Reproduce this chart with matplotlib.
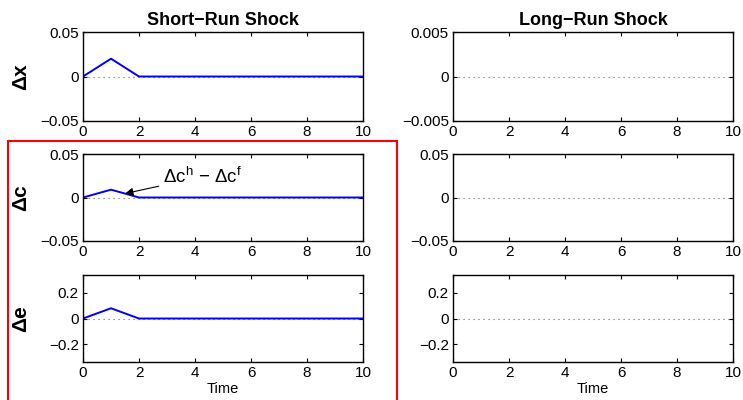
import numpy as np
import matplotlib
matplotlib.use('Agg')
import matplotlib.pyplot as plt
from matplotlib.patches import Rectangle

plt.rcParams['font.family'] = ['Liberation Sans', 'DejaVu Sans']
plt.rcParams['mathtext.fontset'] = 'custom'
plt.rcParams['mathtext.rm'] = 'Liberation Sans'

# impulse responses (periods 0..10)
time = [0, 1, 2, 3, 4, 5, 6, 7, 8, 9, 10]
short_dx = [0, 0.02, 0, 0, 0, 0, 0, 0, 0, 0, 0]
short_dc = [0, 0.009, 0, 0, 0, 0, 0, 0, 0, 0, 0]
short_de = [0, 0.08, 0, 0, 0, 0, 0, 0, 0, 0, 0]

col_titles = ['Short\u2212Run Shock', 'Long\u2212Run Shock']
row_labels = ['\u0394x', '\u0394c', '\u0394e']

# y-axis limits and ticks per row, per column
ylims = [[0.05, 0.005], [0.05, 0.05], [0.34, 0.34]]
yticks = [[[-0.05, 0, 0.05], [-0.005, 0, 0.005]],
          [[-0.05, 0, 0.05], [-0.05, 0, 0.05]],
          [[-0.2, 0, 0.2], [-0.2, 0, 0.2]]]
ytick_labels = [[['\u22120.05', '0', '0.05'], ['\u22120.005', '0', '0.005']],
                [['\u22120.05', '0', '0.05'], ['\u22120.05', '0', '0.05']],
                [['\u22120.2', '0', '0.2'], ['\u22120.2', '0', '0.2']]]
xticks = [0, 2, 4, 6, 8, 10]

W, H = 743, 400
fig = plt.figure(figsize=(W / 100, H / 100), dpi=100)

lefts = [83, 453]
rows = [(32, 121), (154, 241), (275, 362)]
series = [short_dx, short_dc, short_de]

axes = []
for r, (top, bot) in enumerate(rows):
    for c, lx in enumerate(lefts):
        ax = fig.add_axes([lx / W, 1 - bot / H, 280 / W, (bot - top) / H])
        ax.axhline(0, color='#666666', ls=(0, (1, 3.5)), lw=0.8, zorder=1)
        if c == 0:
            ax.plot(time, series[r], color='#0000ff', lw=1.4, zorder=2)
        ax.set_xlim(0, 10)
        ax.set_ylim(-ylims[r][c], ylims[r][c])
        ax.set_xticks(xticks)
        ax.set_xticklabels([str(t) for t in xticks])
        ax.set_yticks(yticks[r][c])
        ax.set_yticklabels(ytick_labels[r][c])
        ax.tick_params(direction='in', top=True, right=True, length=3,
                       width=0.8, labelsize=11, pad=3)
        for s in ax.spines.values():
            s.set_linewidth(1.0)
        if r == 0:
            ax.set_title(col_titles[c], fontsize=13, fontweight='bold', pad=5)
        if r == 2:
            ax.set_xlabel('Time', fontsize=10.5, labelpad=1)
        if c == 0:
            ax.set_ylabel(row_labels[r], fontsize=15, fontweight='bold')
            ax.yaxis.set_label_coords(-53 / 280, 0.5)
        axes.append(ax)

# label on the consumption differential
axes[2].annotate('\u0394c$^\\mathregular{h}$ \u2212 \u0394c$^\\mathregular{f}$',
                 xy=(1.5, 0.0045), xytext=(2.85, 0.024),
                 fontsize=13.5, va='center', ha='left',
                 arrowprops=dict(arrowstyle='-|>', color='black', lw=0.8,
                                 mutation_scale=12, shrinkA=1, shrinkB=0))

# red frame around the lower left panels
fig.patches.append(Rectangle((8 / W, -0.01), (397 - 8) / W, 1 - 141 / H + 0.01,
                             transform=fig.transFigure, fill=False,
                             edgecolor='red', lw=1.5))

fig.savefig('out.png', dpi=100)
